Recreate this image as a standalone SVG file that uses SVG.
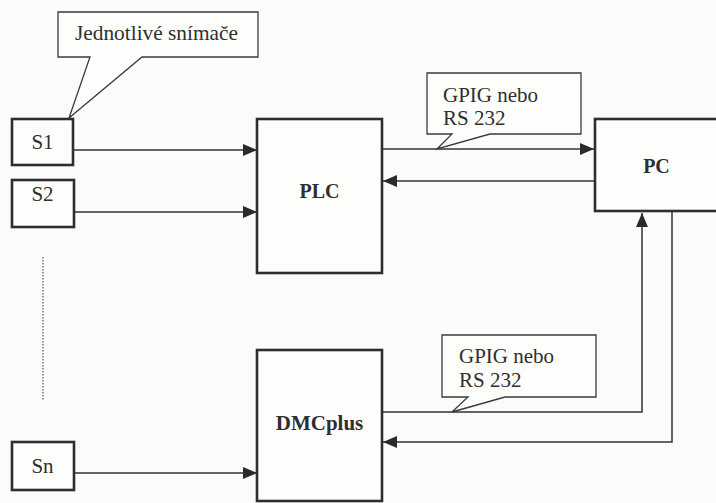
<svg xmlns="http://www.w3.org/2000/svg" width="716" height="503" viewBox="0 0 716 503">
<style>
.box{fill:#fdfdfc;stroke:#2e2e2e;stroke-width:2.6}
.call{fill:#fdfdfc;stroke:#3a3a3a;stroke-width:1.3}
.ln{fill:none;stroke:#333;stroke-width:1.5}
text{font-family:'Liberation Serif','DejaVu Serif',serif;font-size:21px;fill:#2f2f2f}
.b{font-weight:bold;font-size:20px;text-anchor:middle}
.c{text-anchor:middle}
</style>
<defs>
<marker id="ah" viewBox="0 0 14 12" refX="14" refY="6" markerWidth="14" markerHeight="12" markerUnits="userSpaceOnUse" orient="auto">
<path d="M0,0 L14,6 L0,12 Z" fill="#2a2a2a"/>
</marker>
</defs>
<rect width="716" height="503" fill="#fbfbfa"/>
<g id="connectors">
<line class="ln" x1="73" y1="150" x2="257" y2="150" marker-end="url(#ah)"/>
<line class="ln" x1="74" y1="212" x2="257" y2="212" marker-end="url(#ah)"/>
<line class="ln" x1="74" y1="473" x2="257" y2="473" marker-end="url(#ah)"/>
<line class="ln" x1="382" y1="149" x2="594" y2="149" marker-end="url(#ah)"/>
<line class="ln" x1="595" y1="181" x2="383" y2="181" marker-end="url(#ah)"/>
<polyline class="ln" points="382,412 642,412 642,213" marker-end="url(#ah)"/>
<polyline class="ln" points="672,212 672,442 383,442" marker-end="url(#ah)"/>
<line x1="43" y1="257" x2="43" y2="400" stroke="#555" stroke-width="1.2" stroke-dasharray="1.5,1.5"/>
</g>
<g id="S1"><rect class="box" x="12" y="119" width="61" height="46"/><text class="c" x="42.5" y="149">S1</text></g>
<g id="S2"><rect class="box" x="12" y="180" width="62" height="47"/><text class="c" x="42.5" y="201">S2</text></g>
<g id="Sn"><rect class="box" x="12" y="442" width="62" height="48"/><text class="c" x="42.5" y="473">Sn</text></g>
<g id="PLC"><rect class="box" x="257" y="119" width="125" height="154"/><text class="b" x="319.5" y="198">PLC</text></g>
<g id="DMCplus"><rect class="box" x="257" y="350" width="125" height="151"/><text class="b" x="319.5" y="430" style="font-size:21px">DMCplus</text></g>
<g id="PC"><rect class="box" x="595" y="119" width="130" height="92"/><text class="b" x="656.5" y="173">PC</text></g>
<g id="callout-snimace">
<path class="call" d="M58,12 H258 V57 H142 L69,118 L90,57 H58 Z"/>
<text x="75" y="40" textLength="163" lengthAdjust="spacingAndGlyphs">Jednotlivé snímače</text>
</g>
<g id="callout-top">
<path class="call" d="M427,73 H581 V134 H490 L437,149 L452,134 H427 Z"/>
<text x="443" y="102">GPIG nebo</text>
<text x="443" y="125">RS 232</text>
</g>
<g id="callout-bottom">
<path class="call" d="M442,335 H596 V397 H505 L452,412 L468,397 H442 Z"/>
<text x="459" y="363">GPIG nebo</text>
<text x="459" y="387">RS 232</text>
</g>
</svg>
